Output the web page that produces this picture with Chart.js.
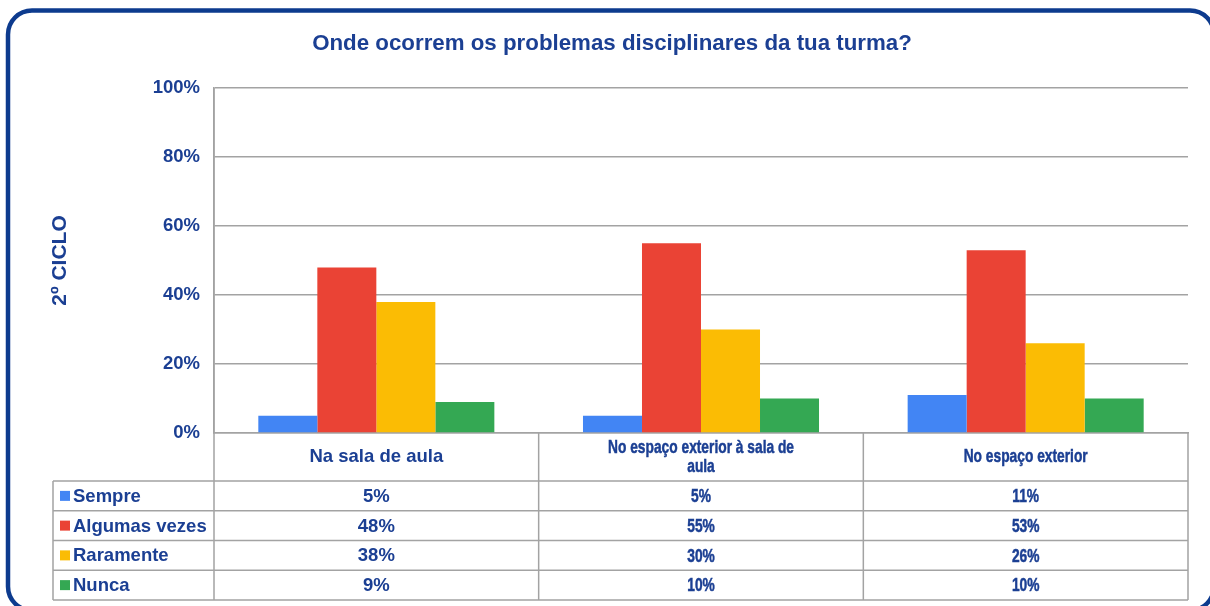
<!DOCTYPE html>
<html>
<head>
<meta charset="utf-8">
<script src="https://cdn.jsdelivr.net/npm/chart.js@4"></script>
<style>
  html, body { margin: 0; padding: 0; background: #fff; }
  #wrap { width: 1210px; height: 606px; position: relative; }
</style>
</head>
<body>
<div id="wrap"><canvas id="myChart" width="1210" height="606"></canvas></div>
<script>
// categories (header of the data table, already wrapped)
const categories = [
    ['Na sala de aula'],
    ['No espaço exterior à sala de', 'aula'],
    ['No espaço exterior']
];
const seriesNames = ['Sempre', 'Algumas vezes', 'Raramente', 'Nunca'];
const seriesColors = ['#4285F4', '#EA4335', '#FBBC04', '#34A853'];

const sempre = [5, 5, 11];
const algumasVezes = [48, 55, 53];
const raramente = [38, 30, 26];
const nunca = [9, 10, 10];

const yTicks = [0, 20, 40, 60, 80, 100];

const TEXT = '#1b3f93';
const LINE = '#a3a3a3';
const FONT = '"Liberation Sans", Arial, sans-serif';

const allSeries = [sempre, algumasVezes, raramente, nunca];

// columns 2 and 3 of the table use a squeezed type in the original
function cellText(c, txt, cx, cy, squeezed) {
    if (!squeezed) {
        c.font = 'bold 18.5px ' + FONT;
        c.fillText(txt, cx, cy);
        return;
    }
    c.save();
    c.font = 'bold 19px ' + FONT;
    c.translate(cx, cy);
    c.scale(0.725, 1);
    c.lineWidth = 0.5;
    c.strokeStyle = TEXT;
    c.strokeText(txt, 0, 0);
    c.fillText(txt, 0, 0);
    c.restore();
}

// frame + data table under the plot
const tablePlugin = {
    id: 'tablePlugin',
    beforeDraw(chart) {
        const c = chart.ctx;
        c.save();
        c.strokeStyle = '#0d3b8e';
        c.lineWidth = 4.5;
        c.beginPath();
        c.roundRect(8, 10.5, 1206, 600, 24);
        c.stroke();
        c.restore();
    },
    afterDraw(chart) {
        const c = chart.ctx;
        const x = chart.scales.x;
        const area = chart.chartArea;
        const colW = (area.right - area.left) / categories.length;
        const headTop = area.bottom;
        const headBottom = 481;
        const rowH = 29.75;
        const tableBottom = headBottom + rowH * seriesNames.length;
        const leftX = 53;

        c.save();
        c.strokeStyle = LINE;
        c.lineWidth = 1.5;
        c.beginPath();
        for (let i = 0; i <= categories.length; i++) {
            const xx = area.left + i * colW;
            c.moveTo(xx, i === 0 ? area.top : headTop);
            c.lineTo(xx, tableBottom);
        }
        c.moveTo(leftX, headBottom);
        c.lineTo(leftX, tableBottom);
        for (let r = 0; r <= seriesNames.length; r++) {
            const yy = headBottom + r * rowH;
            c.moveTo(leftX, yy);
            c.lineTo(area.right, yy);
        }
        c.stroke();

        c.fillStyle = TEXT;
        c.textAlign = 'center';
        c.textBaseline = 'middle';
        categories.forEach((lines, i) => {
            const cx = x.getPixelForValue(i);
            const lh = 19;
            const mid = (headTop + headBottom) / 2;
            const start = mid - (lines.length - 1) * lh / 2;
            lines.forEach((ln, k) => cellText(c, ln, cx, start + k * lh, i > 0));
        });

        seriesNames.forEach((name, r) => {
            const cy = headBottom + r * rowH + rowH / 2;
            c.fillStyle = seriesColors[r];
            c.fillRect(60, cy - 5, 10, 10);
            c.fillStyle = TEXT;
            c.textAlign = 'left';
            c.font = 'bold 18.5px ' + FONT;
            c.fillText(name, 73, cy + 1);
            c.textAlign = 'center';
            allSeries[r].forEach((v, i) => {
                cellText(c, v + '%', x.getPixelForValue(i), cy + 1, i > 0);
            });
        });
        c.restore();
    }
};

const ctx = document.getElementById('myChart').getContext('2d');

const myChart = new Chart(ctx, {
    type: 'bar',
    data: {
        labels: categories,
        datasets: seriesNames.map((name, i) => ({
            label: name,
            data: allSeries[i],
            backgroundColor: seriesColors[i],
            borderWidth: 0,
            categoryPercentage: 0.727,
            barPercentage: 1.0
        }))
    },
    options: {
        responsive: false,
        animation: false,
        layout: {
            padding: { left: 36, right: 22, top: 30.8, bottom: 173 }
        },
        plugins: {
            legend: { display: false },
            tooltip: { enabled: false },
            title: {
                display: true,
                text: 'Onde ocorrem os problemas disciplinares da tua turma?',
                color: TEXT,
                font: { family: FONT, size: 22.3, weight: 'bold' },
                padding: { top: 0, bottom: 30.4 }
            }
        },
        scales: {
            x: {
                ticks: { display: false },
                grid: { display: false },
                border: { display: true, color: LINE, width: 1.5 },
                afterFit(scale) { scale.height = 0; }
            },
            y: {
                min: 0,
                max: 100,
                afterBuildTicks(scale) {
                    scale.ticks = yTicks.map(v => ({ value: v }));
                },
                ticks: {
                    color: TEXT,
                    font: { family: FONT, size: 18.5, weight: 'bold' },
                    padding: 14,
                    callback: v => v + '%'
                },
                grid: { color: LINE, lineWidth: 1.5, drawTicks: false },
                border: { display: true, color: LINE, width: 1.5 },
                title: {
                    display: true,
                    text: '2º CICLO',
                    color: TEXT,
                    font: { family: FONT, size: 21, weight: 'bold' },
                    padding: { top: 12, bottom: 0 }
                },
                afterFit(scale) { scale.width = 178; }
            }
        }
    },
    plugins: [tablePlugin]
});
</script>
</body>
</html>
